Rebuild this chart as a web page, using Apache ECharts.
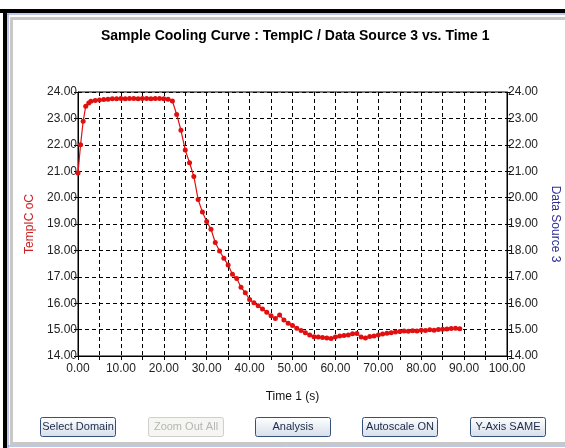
<!DOCTYPE html>
<html>
<head>
<meta charset="utf-8">
<script src="https://cdn.jsdelivr.net/npm/echarts@6/dist/echarts.min.js"></script>
<style>
  html, body { margin: 0; padding: 0; background: #fff; }
  #chart { width: 565px; height: 448px; }
</style>
</head>
<body>
<div id="chart"></div>
<script>
// sample times (s) and TempIC readings
var times = [0, 0.6, 1.2, 1.8, 2.5, 3, 4, 5, 6, 7, 8, 9, 10, 11, 12, 13, 14, 15, 16, 17, 18, 19, 20, 21,
  22, 23, 24, 25, 26, 27, 28, 29, 30, 31, 32, 33, 34, 35, 36, 37, 38, 39, 40, 41, 42, 43, 44, 45, 46, 47,
  48, 49, 50, 51, 52, 53, 54, 55, 56, 57, 58, 59, 60, 61, 62, 63, 64, 65, 66, 67, 68, 69, 70, 71, 72, 73,
  74, 75, 76, 77, 78, 79, 80, 81, 82, 83, 84, 85, 86, 87, 88, 89];
var temps = [20.93, 22.0, 22.89, 23.46, 23.58, 23.65, 23.68, 23.70, 23.72, 23.73, 23.74, 23.74, 23.75, 23.74,
  23.75, 23.75, 23.74, 23.75, 23.75, 23.74, 23.75, 23.75, 23.74, 23.73,
  23.66, 23.15, 22.55, 21.8, 21.32, 20.8, 19.93, 19.45, 19.09, 18.8, 18.3, 17.98, 17.7, 17.45, 17.1, 16.94,
  16.6, 16.4, 16.14, 16.02, 15.9, 15.78, 15.66, 15.52, 15.42, 15.55, 15.36, 15.24, 15.16, 15.05, 14.97,
  14.88, 14.8, 14.73, 14.72, 14.7, 14.68, 14.66, 14.72, 14.76, 14.78, 14.8, 14.84, 14.85, 14.72, 14.68,
  14.74, 14.76, 14.8, 14.83, 14.86, 14.88, 14.91, 14.93, 14.95, 14.94, 14.96, 14.95, 14.98, 14.97, 14.99,
  14.98, 15.0, 15.01, 15.02, 15.04, 15.05, 15.03];
var buttonLabels = ["Select Domain", "Zoom Out All", "Analysis", "Autoscale ON", "Y-Axis SAME"];
var buttonX = [40, 148, 255, 362, 470];

var chart = echarts.init(document.getElementById("chart"));

var points = times.map(function (t, i) {
  return [t, temps[i]];
});

var fmt2 = function (v) {
  return v.toFixed(2);
};

// window frame + buttons
var graphics = [
  { type: "rect", shape: { x: 0, y: 9, width: 565, height: 4 }, style: { fill: "#000" } },
  { type: "rect", shape: { x: 3, y: 9, width: 4, height: 439 }, style: { fill: "#000" } },
  { type: "line", shape: { x1: 7, y1: 14, x2: 565, y2: 14 }, style: { stroke: "#7f8fcf", lineWidth: 1 } },
  { type: "line", shape: { x1: 8, y1: 14, x2: 8, y2: 448 }, style: { stroke: "#7f8fcf", lineWidth: 1 } },
  { type: "line", shape: { x1: 8, y1: 446, x2: 565, y2: 446 }, style: { stroke: "#7f8fcf", lineWidth: 1 } },
  { type: "rect", shape: { x: 11.5, y: 18.5, width: 560, height: 425 },
    style: { fill: null, stroke: "#c8c8c8", lineWidth: 3 } }
];

buttonLabels.forEach(function (label, i) {
  var disabled = label === "Zoom Out All";
  graphics.push({
    type: "rect",
    shape: { x: buttonX[i] + 0.5, y: 417.5, width: 75, height: 19, r: 2 },
    style: {
      fill: disabled ? "#f5f5f1" : new echarts.graphic.LinearGradient(0, 0, 0, 1, [
        { offset: 0, color: "#ffffff" },
        { offset: 1, color: "#d6deea" }
      ]),
      stroke: disabled ? "#cfcfcf" : "#34507e",
      lineWidth: 1
    }
  });
  graphics.push({
    type: "text",
    x: buttonX[i] + 38,
    y: 427,
    style: {
      text: label,
      fill: disabled ? "#b5b5b5" : "#1c2a48",
      font: "11px 'Liberation Sans', Arial, sans-serif",
      textAlign: "center",
      textVerticalAlign: "middle"
    }
  });
});

var labelFont = "'Liberation Sans', Arial, sans-serif";

var option = {
  backgroundColor: "#fff",
  animation: false,
  title: {
    text: "Sample Cooling Curve : TempIC / Data Source 3 vs. Time 1",
    left: 96,
    top: 24,
    textStyle: { fontSize: 14, fontWeight: "bold", color: "#000", fontFamily: labelFont }
  },
  graphic: graphics,
  grid: {
    left: 78, right: 58, top: 92, bottom: 92,
    outerBoundsMode: "none",
    show: true, borderColor: "#000", borderWidth: 1
  },
  xAxis: {
    type: "value",
    min: 0, max: 100, interval: 5,
    name: "Time 1 (s)",
    nameLocation: "middle",
    nameGap: 35,
    nameTextStyle: { fontSize: 12, color: "#111", fontFamily: labelFont },
    axisLine: { lineStyle: { color: "#000", width: 1 } },
    axisTick: { length: 4, lineStyle: { color: "#000" } },
    axisLabel: {
      fontSize: 12, color: "#222", fontFamily: labelFont, margin: 7,
      formatter: function (v) { return v % 10 === 0 ? fmt2(v) : ""; }
    },
    splitLine: { show: true, lineStyle: { color: "#000", type: [4, 3], width: 1 } }
  },
  yAxis: [
    {
      type: "value",
      min: 14, max: 24, interval: 1,
      position: "left",
      name: "TempIC oC",
      nameLocation: "middle",
      nameGap: 40,
      nameTextStyle: { fontSize: 12, color: "#cc2020", fontFamily: labelFont },
      axisLine: { show: true, lineStyle: { color: "#000" } },
      axisTick: { show: true, length: 4, lineStyle: { color: "#000" } },
      axisLabel: { fontSize: 12, color: "#222", fontFamily: labelFont, margin: 1, formatter: fmt2 },
      splitLine: { show: true, lineStyle: { color: "#000", type: [4, 3], width: 1 } }
    },
    {
      type: "value",
      min: 14, max: 24, interval: 1,
      position: "right",
      name: "Data Source 3",
      nameLocation: "middle",
      nameRotate: -90,
      nameGap: 40,
      nameTextStyle: { fontSize: 12, color: "#2e2e96", fontFamily: labelFont },
      axisLine: { show: true, lineStyle: { color: "#000" } },
      axisTick: { show: true, length: 4, lineStyle: { color: "#000" } },
      axisLabel: { fontSize: 12, color: "#222", fontFamily: labelFont, margin: 1, formatter: fmt2 },
      splitLine: { show: false }
    }
  ],
  series: [
    {
      name: "TempIC",
      type: "line",
      data: points,
      yAxisIndex: 0,
      symbol: "circle",
      symbolSize: 5,
      itemStyle: { color: "#e01010" },
      lineStyle: { color: "#e01010", width: 1.2 }
    }
  ]
};

chart.setOption(option);
</script>
</body>
</html>
